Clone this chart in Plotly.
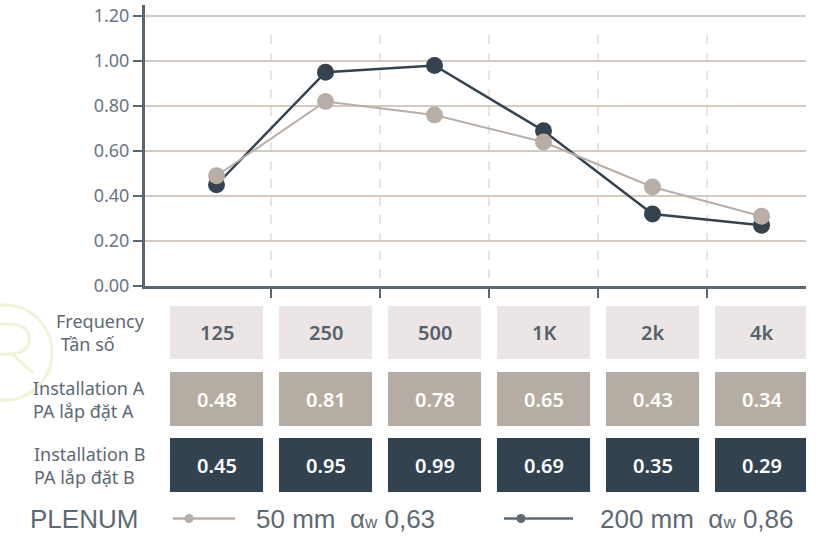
import plotly.graph_objects as go

# ---------------- data ----------------
frequencies = ["125", "250", "500", "1K", "2k", "4k"]
curve_a = [0.49, 0.82, 0.76, 0.64, 0.44, 0.31]   # plotted line, installation A (50 mm)
curve_b = [0.45, 0.95, 0.98, 0.69, 0.32, 0.27]   # plotted line, installation B (200 mm)
table_a = ["0.48", "0.81", "0.78", "0.65", "0.43", "0.34"]
table_b = ["0.45", "0.95", "0.99", "0.69", "0.35", "0.29"]
y_ticks = [0.0, 0.2, 0.4, 0.6, 0.8, 1.0, 1.2]
y_ticktext = ["0.00", "0.20", "0.40", "0.60", "0.80", "1.00", "1.20"]
row_labels = ["Frequency<br> Tần số", "Installation A<br>PA lắp đặt A", "Installation B<br>PA lắp đặt B"]
legend_title = "PLENUM"
legend_a = "50 mm &nbsp;α<span style='font-size:17px'>w</span> 0,63"
legend_b = "200 mm &nbsp;α<span style='font-size:17px'>w</span> 0,86"

# ---------------- style ----------------
W, H = 826, 536
DARK = "#34434f"
LIGHT = "#b8aea5"
AXIS = "#5b6770"
TXT = "#5d6973"
GRID = "#d3cac1"
VGRID = "#e9e3e1"
CELL1 = "#ebe5e5"
LOGO = "rgba(205,220,130,0.32)"
FONT = "Noto Sans"


def px(x):
    return x / W


def py(y):
    return 1 - y / H


x_idx = list(range(len(frequencies)))

fig = go.Figure()
fig.add_trace(go.Scatter(x=x_idx, y=curve_b, mode="lines+markers",
                         line=dict(color=DARK, width=2.5),
                         marker=dict(color=DARK, size=17), showlegend=False))
fig.add_trace(go.Scatter(x=x_idx, y=curve_a, mode="lines+markers",
                         line=dict(color=LIGHT, width=2),
                         marker=dict(color=LIGHT, size=17), showlegend=False))

shapes = []
annotations = []

# dashed vertical separators between frequency bands
for i in range(len(frequencies) - 1):
    shapes.append(dict(type="line", xref="x", yref="paper", x0=i + 0.5, x1=i + 0.5,
                       y0=py(278), y1=py(27), line=dict(color=VGRID, width=2, dash="dash"),
                       layer="below"))

# faint watermark logo (circle with an R drawn as a path)
shapes.append(dict(type="circle", xref="paper", yref="paper", x0=px(-42), x1=px(52),
                   y0=py(400), y1=py(305), line=dict(color=LOGO, width=3),
                   layer="below"))


def pt(x, y):
    return f"{px(x):.5f},{py(y):.5f}"


r_path = ("M " + pt(-4, 324) + " L " + pt(8, 324) + " Q " + pt(29, 324) + " " + pt(29, 339)
          + " Q " + pt(29, 354) + " " + pt(8, 354) + " L " + pt(-4, 354)
          + " M " + pt(12, 354) + " L " + pt(33, 373))
shapes.append(dict(type="path", xref="paper", yref="paper", path=r_path,
                   line=dict(color=LOGO, width=3), layer="below"))

# table cells
rows = [
    (frequencies, CELL1, "#55616b", 306, 359),
    (table_a, "#b5ada4", "white", 372, 426),
    (table_b, "#33424f", "white", 438, 492),
]
half = 0.427
for texts, fill, tcol, ytop, ybot in rows:
    for i, t in enumerate(texts):
        shapes.append(dict(type="rect", xref="x", yref="paper", x0=i - half, x1=i + half,
                           y0=py(ybot), y1=py(ytop), fillcolor=fill, line=dict(width=0)))
        annotations.append(dict(x=i, y=py((ytop + ybot) / 2), xref="x", yref="paper",
                                text=t, showarrow=False, xanchor="center", yanchor="middle",
                                font=dict(family=FONT, size=20, color=tcol, weight=600)))

# row labels
for lbl, (_, _, _, ytop, ybot) in zip(row_labels, rows):
    annotations.append(dict(x=px(147), y=py((ytop + ybot) / 2), xref="paper", yref="paper",
                            text=lbl, showarrow=False, xanchor="right", yanchor="middle",
                            align="left",
                            font=dict(family=FONT, size=18, color=TXT)))

# bottom legend
LEG_Y = 518.5
annotations.append(dict(x=px(28), y=py(LEG_Y), xref="paper", yref="paper", text=legend_title,
                        showarrow=False, xanchor="left", yanchor="middle",
                        font=dict(family="Liberation Sans", size=26, color=TXT)))
for (x0, x1, xm, col, txt, xt) in [(173, 235, 189, LIGHT, legend_a, 254),
                                     (504, 573, 521, "#5d6a74", legend_b, 598)]:
    shapes.append(dict(type="line", xref="paper", yref="paper", x0=px(x0), x1=px(x1),
                       y0=py(LEG_Y), y1=py(LEG_Y), line=dict(color=col, width=2.5)))
    shapes.append(dict(type="circle", xref="paper", yref="paper", x0=px(xm - 4.5),
                       x1=px(xm + 4.5), y0=py(LEG_Y + 4.5), y1=py(LEG_Y - 4.5),
                       fillcolor=col, line=dict(width=0)))
    annotations.append(dict(x=px(xt), y=py(LEG_Y), xref="paper", yref="paper", text=txt,
                            showarrow=False, xanchor="left", yanchor="middle",
                            font=dict(family="Liberation Sans", size=26, color=TXT)))

fig.update_layout(
    width=W, height=H,
    margin=dict(l=0, r=0, t=0, b=0),
    paper_bgcolor="white", plot_bgcolor="white",
    template="none",
    hovermode=False,
    shapes=shapes, annotations=annotations,
    xaxis=dict(domain=[px(145), px(806)], range=[-0.656, 5.408],
               tickvals=[i + 0.5 for i in range(len(frequencies) - 1)],
               showticklabels=False, ticks="outside", ticklen=9, tickwidth=2.5,
               tickcolor=AXIS, showgrid=False, zeroline=False,
               showline=True, linecolor=AXIS, linewidth=3, automargin=False),
    yaxis=dict(domain=[py(286), py(4.75)], range=[0, 1.25],
               tickvals=y_ticks, ticktext=y_ticktext,
               ticks="outside", ticklen=9, tickwidth=2.5, tickcolor=AXIS,
               tickfont=dict(family=FONT, size=18, color="#6b7680"),
               showgrid=True, gridcolor=GRID, gridwidth=1.5, zeroline=False,
               showline=True, linecolor=AXIS, linewidth=3, automargin=False),
)

# remove the default 8px page margin so the figure fills the window exactly
fig.write_html("out.html", config={"displayModeBar": False, "staticPlot": True},
               post_script="document.body.style.margin='0px';")
